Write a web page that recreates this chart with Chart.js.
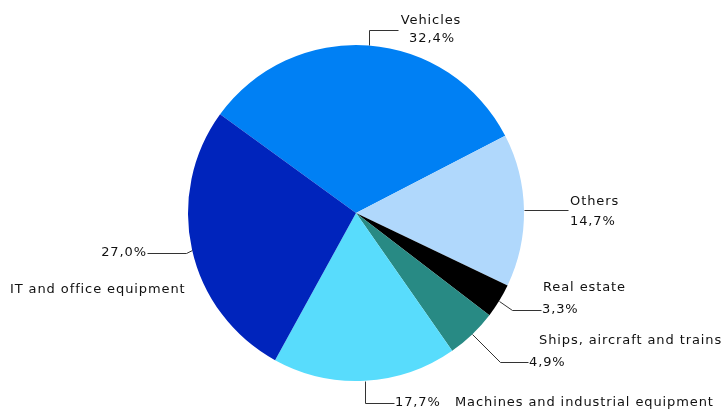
<!DOCTYPE html>
<html>
<head>
<meta charset="utf-8">
<script src="https://cdn.jsdelivr.net/npm/chart.js@4"></script>
<style>
  html, body { margin: 0; padding: 0; background: #fff; }
  #wrap { width: 724px; height: 413px; position: relative; }
</style>
</head>
<body>
<div id="wrap"><canvas id="c" width="724" height="413"></canvas></div>
<script>
const categories = ["Vehicles", "Others", "Real estate", "Ships, aircraft and trains", "Machines and industrial equipment", "IT and office equipment"];
const shares = [32.4, 14.7, 3.3, 4.9, 17.7, 27.0];
const valueLabels = ["32,4%", "14,7%", "3,3%", "4,9%", "17,7%", "27,0%"];
const colors = ["#0080f4", "#b0d8fc", "#000000", "#288a84", "#58dcfc", "#0024bc"];

// leader-line layout per slice (relative offsets from the slice's outer mid point)
const leaders = [
  { path: [[0, -15], [29, -15]], name: { dx: 62, dy: -24, align: "center" }, val: { dx: 63, dy: -6, align: "center" } },
  { path: [[44, 0]], name: { dx: 46, dy: -8, align: "left" }, val: { dx: 46, dy: 12, align: "left" } },
  { path: [[13, 9], [42, 9]], name: { dx: 44, dy: -13, align: "left" }, val: { dx: 43, dy: 9, align: "left" } },
  { path: [[28, 28], [56, 28]], name: { dx: 67, dy: 7, align: "left" }, val: { dx: 57, dy: 29, align: "left" } },
  { path: [[0, 22], [29, 22]], name: { dx: 90, dy: 22, align: "left" }, val: { dx: 30, dy: 22, align: "left" } },
  { path: [[-6, 3], [-45, 3]], name: { dx: -182, dy: 40, align: "left" }, val: { dx: -45, dy: 3, align: "right" } }
];

const labelPlugin = {
  id: "leaderLabels",
  afterDatasetsDraw(chart) {
    const ctx = chart.ctx;
    const meta = chart.getDatasetMeta(0);
    ctx.save();
    ctx.strokeStyle = "#333";
    ctx.lineWidth = 1;
    ctx.fillStyle = "#111";
    ctx.font = "13px 'DejaVu Sans'";
    if ("letterSpacing" in ctx) ctx.letterSpacing = "0.9px";
    ctx.textBaseline = "middle";
    meta.data.forEach((arc, i) => {
      const p = arc.getProps(["x", "y", "startAngle", "endAngle", "outerRadius"], true);
      const mid = (p.startAngle + p.endAngle) / 2;
      const ax = p.x + Math.cos(mid) * p.outerRadius;
      const ay = p.y + Math.sin(mid) * p.outerRadius;
      const L = leaders[i];
      ctx.beginPath();
      ctx.moveTo(Math.round(ax) + 0.5, Math.round(ay) + 0.5);
      L.path.forEach(([dx, dy]) => ctx.lineTo(Math.round(ax + dx) + 0.5, Math.round(ay + dy) + 0.5));
      ctx.stroke();
      ctx.textAlign = L.name.align;
      ctx.fillText(categories[i], Math.round(ax + L.name.dx), Math.round(ay + L.name.dy));
      ctx.textAlign = L.val.align;
      ctx.fillText(valueLabels[i], Math.round(ax + L.val.dx), Math.round(ay + L.val.dy));
    });
    ctx.restore();
  }
};

new Chart(document.getElementById("c"), {
  type: "pie",
  data: {
    labels: categories,
    datasets: [{ data: shares, backgroundColor: colors, borderWidth: 0 }]
  },
  options: {
    responsive: false,
    animation: false,
    rotation: -54,
    layout: { padding: { left: 100, right: 112, top: 45, bottom: 32 } },
    plugins: { legend: { display: false }, tooltip: { enabled: false } }
  },
  plugins: [labelPlugin]
});
</script>
</body>
</html>
